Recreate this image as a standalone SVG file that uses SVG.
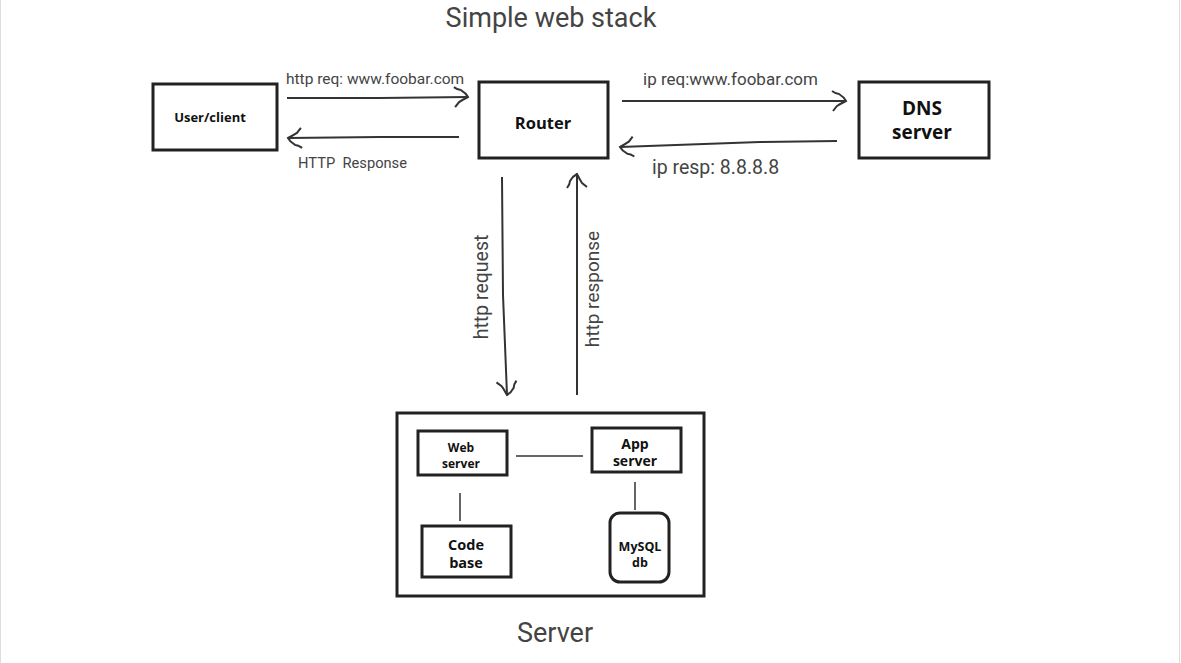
<svg xmlns="http://www.w3.org/2000/svg" width="1181" height="663" viewBox="0 0 1181 663">
<defs>
<style>
.box{fill:#fff;stroke:#222;stroke-width:3}
.frame{fill:none;stroke:#222;stroke-width:3}
.nt{font-family:"Open Sans","Liberation Sans",sans-serif;font-weight:bold;fill:#111;text-anchor:middle}
.lbl{font-family:Roboto,"Liberation Sans",sans-serif;fill:#444}
.ttl{font-family:Roboto,"Liberation Sans",sans-serif;fill:#444;text-anchor:middle;font-size:27px}
.edge{fill:none;stroke:#333;stroke-width:2}
.thin{fill:none;stroke:#333;stroke-width:1.5}
</style>
<marker id="ah" viewBox="0 0 24 24" refX="22" refY="12" markerWidth="24" markerHeight="24" markerUnits="userSpaceOnUse" orient="auto">
<path d="M8,2 Q12,5 15,5 Q20,8 22,12 Q16,15 13,17 L9,22" fill="none" stroke="#333" stroke-width="2"/>
</marker>
</defs>
<rect x="0" y="0" width="1181" height="663" fill="#fff"/>
<line x1="0.5" y1="0" x2="0.5" y2="663" stroke="#ddd"/>
<line x1="1179.5" y1="0" x2="1179.5" y2="663" stroke="#ddd"/>
<text class="ttl" x="551" y="27">Simple web stack</text>
<text class="ttl" x="555" y="642">Server</text>

<g id="server">
<rect class="frame" x="397" y="413" width="307" height="183"/>
</g>

<g id="connectors">
<path class="edge" d="M287,98 L380,98 L468,97" marker-end="url(#ah)"/>
<path class="edge" d="M459,137 L380,137 L288,138" marker-end="url(#ah)"/>
<path class="edge" d="M622,101 L750,101 L846,101" marker-end="url(#ah)"/>
<path class="edge" d="M837,141 L760,142 L620,147" marker-end="url(#ah)"/>
<path class="edge" d="M502,177 L503,295 L507,395" marker-end="url(#ah)"/>
<path class="edge" d="M577,395 L577,174" marker-end="url(#ah)"/>
<line class="thin" x1="516" y1="456" x2="583" y2="456"/>
<line class="thin" x1="460" y1="493" x2="460" y2="521"/>
<line class="thin" x1="635" y1="482" x2="635" y2="510"/>
<text class="lbl" x="286" y="84" font-size="15.5">http req: www.foobar.com</text>
<text class="lbl" x="298" y="168" font-size="14.7" xml:space="preserve">HTTP  Response</text>
<text class="lbl" x="643" y="85" font-size="17">ip req:www.foobar.com</text>
<text class="lbl" x="652" y="174" font-size="19.5">ip resp: 8.8.8.8</text>
<text class="lbl" font-size="19.5" text-anchor="middle" transform="translate(488,287) rotate(-90)">http request</text>
<text class="lbl" font-size="19" text-anchor="middle" transform="translate(599,289) rotate(-90)">http response</text>
</g>

<g id="user">
<rect class="box" x="153" y="84" width="124" height="66"/>
<text class="nt" x="210" y="122" font-size="13">User/client</text>
</g>
<g id="router">
<rect class="box" x="479" y="82" width="129" height="76"/>
<text class="nt" x="543" y="129" font-size="16.5">Router</text>
</g>
<g id="dns">
<rect class="box" x="859" y="82" width="130" height="76"/>
<text class="nt" x="922" y="115" font-size="19">DNS</text>
<text class="nt" x="922" y="139" font-size="19">server</text>
</g>
<g id="webserver">
<rect class="box" x="418" y="431" width="89" height="44"/>
<text class="nt" x="461" y="452" font-size="12">Web</text>
<text class="nt" x="461" y="468" font-size="12">server</text>
</g>
<g id="appserver">
<rect class="box" x="592" y="428" width="89" height="44"/>
<text class="nt" x="635" y="449" font-size="14">App</text>
<text class="nt" x="635" y="466" font-size="14">server</text>
</g>
<g id="codebase">
<rect class="box" x="422" y="526" width="89" height="51"/>
<text class="nt" x="466" y="550" font-size="14.5">Code</text>
<text class="nt" x="466" y="568" font-size="14.5">base</text>
</g>
<g id="mysql">
<rect class="box" x="610" y="513" width="59" height="69" rx="10"/>
<text class="nt" x="640" y="551" font-size="12.5">MySQL</text>
<text class="nt" x="640" y="567" font-size="12.5">db</text>
</g>
</svg>
